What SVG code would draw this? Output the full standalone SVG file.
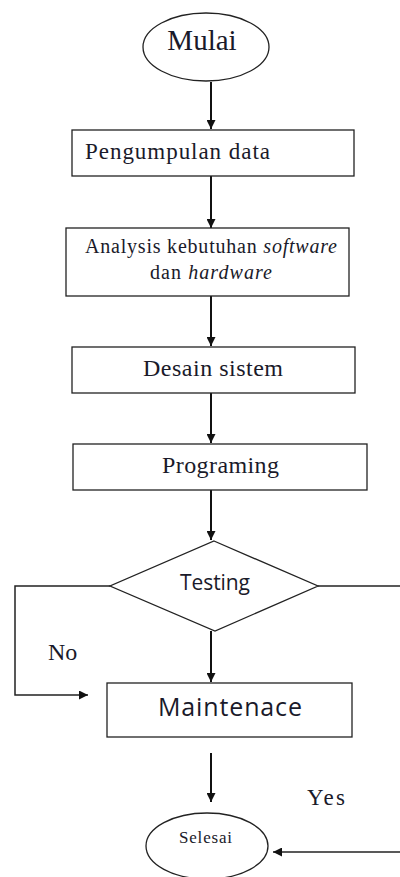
<svg xmlns="http://www.w3.org/2000/svg" width="400" height="877" viewBox="0 0 400 877">
<defs>
<style>
.shape{fill:#fff;stroke:#222;stroke-width:1.3}
.serif{font-family:"Liberation Serif","Times New Roman",serif;fill:#1a1a2a}
.sans{font-family:"Open Sans","Liberation Sans",Arial,sans-serif;fill:#1a1a2a}
.conn{fill:none;stroke:#111;stroke-width:2}
.thin{fill:none;stroke:#222;stroke-width:1.5}
</style>
<marker id="ah" viewBox="0 0 10 10" refX="10" refY="5" markerWidth="4.5" markerHeight="4.5" orient="auto" markerUnits="strokeWidth">
<path d="M0,0 L10,5 L0,10 z" fill="#111"/>
</marker>
<marker id="ah2" viewBox="0 0 10 10" refX="10" refY="5" markerWidth="6" markerHeight="6" orient="auto" markerUnits="strokeWidth">
<path d="M0,0 L10,5 L0,10 z" fill="#111"/>
</marker>
</defs>
<rect width="400" height="877" fill="#fff"/>
<g id="connectors">
<line class="conn" x1="211" y1="82" x2="211" y2="129" marker-end="url(#ah)"/>
<line class="conn" x1="211" y1="176" x2="211" y2="228" marker-end="url(#ah)"/>
<line class="conn" x1="211" y1="296" x2="211" y2="346" marker-end="url(#ah)"/>
<line class="conn" x1="211" y1="393" x2="211" y2="443" marker-end="url(#ah)"/>
<line class="conn" x1="211" y1="490" x2="211" y2="540" marker-end="url(#ah)"/>
<line class="conn" x1="211" y1="631" x2="211" y2="682" marker-end="url(#ah)"/>
<line class="conn" x1="211" y1="753" x2="211" y2="802" marker-end="url(#ah)"/>
<polyline class="thin" points="110,586 15,586 15,695 88,695" marker-end="url(#ah2)"/>
<line class="thin" x1="318" y1="586" x2="400" y2="586"/>
<line class="thin" x1="400" y1="852" x2="273" y2="852" marker-end="url(#ah2)"/>
<text class="serif" x="48" y="660" font-size="24">No</text>
<text class="serif" x="307" y="805" font-size="23" textLength="38">Yes</text>
</g>
<g id="mulai">
<ellipse class="shape" cx="206" cy="47" rx="63" ry="34"/>
<text class="serif" x="202" y="50" font-size="29" text-anchor="middle">Mulai</text>
</g>
<g id="pengumpulan">
<rect class="shape" x="72" y="130" width="282" height="46"/>
<text class="serif" x="85" y="159" font-size="23" textLength="185">Pengumpulan data</text>
</g>
<g id="analysis">
<rect class="shape" x="66" y="228" width="283" height="68"/>
<text class="serif" x="85" y="253" font-size="20" textLength="252">Analysis kebutuhan <tspan font-style="italic">software</tspan></text>
<text class="serif" x="150" y="279" font-size="20" textLength="122">dan <tspan font-style="italic">hardware</tspan></text>
</g>
<g id="desain">
<rect class="shape" x="72" y="347" width="283" height="46"/>
<text class="serif" x="143" y="376" font-size="24" textLength="140">Desain sistem</text>
</g>
<g id="programing">
<rect class="shape" x="73" y="444" width="294" height="46"/>
<text class="serif" x="162" y="473" font-size="24" textLength="117">Programing</text>
</g>
<g id="testing">
<polygon class="shape" points="214,541 318,586 215,631 110,586"/>
<text class="sans" x="180" y="590" font-size="21" textLength="70">Testing</text>
</g>
<g id="maintenace">
<rect class="shape" x="107" y="683" width="245" height="54"/>
<text class="sans" x="158" y="716" font-size="25" textLength="144">Maintenace</text>
</g>
<g id="selesai">
<ellipse class="shape" cx="207" cy="846" rx="61" ry="33"/>
<text class="serif" x="179" y="843" font-size="17" textLength="53">Selesai</text>
</g>
</svg>
